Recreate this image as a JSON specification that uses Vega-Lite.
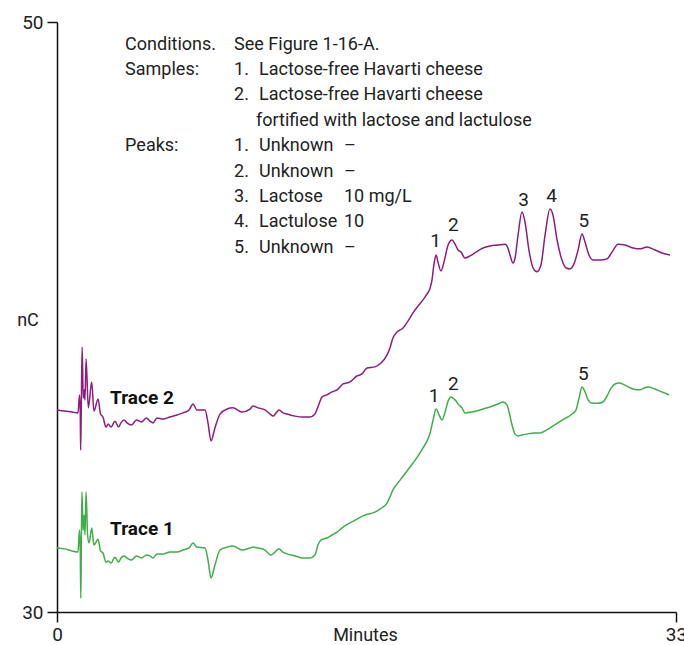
{
  "$schema": "https://vega.github.io/schema/vega-lite/v6.json",
  "width": 619,
  "height": 590,
  "autosize": {"type": "none"},
  "padding": {"left": 57, "top": 22, "right": 8, "bottom": 33},
  "background": "white",
  "config": {
    "view": {"stroke": null},
    "font": "Roboto",
    "axis": {
      "grid": false,
      "domainColor": "#111111",
      "domainWidth": 1.5,
      "tickColor": "#111111",
      "tickWidth": 1.5,
      "tickSize": 10,
      "labelFlush": false,
      "labelFont": "Roboto",
      "labelFontSize": 19,
      "labelColor": "#222222",
      "titleFont": "Roboto",
      "titleFontSize": 18,
      "titleFontWeight": "normal",
      "titleColor": "#222222"
    }
  },
  "datasets": {
    "traces": [
      {"trace": "Trace 2", "min": 0.00, "nC": 36.85},
      {"trace": "Trace 2", "min": 0.43, "nC": 36.81},
      {"trace": "Trace 2", "min": 0.80, "nC": 36.78},
      {"trace": "Trace 2", "min": 1.12, "nC": 36.75},
      {"trace": "Trace 2", "min": 1.20, "nC": 37.36},
      {"trace": "Trace 2", "min": 1.24, "nC": 36.78},
      {"trace": "Trace 2", "min": 1.26, "nC": 35.49},
      {"trace": "Trace 2", "min": 1.30, "nC": 37.19},
      {"trace": "Trace 2", "min": 1.34, "nC": 38.98},
      {"trace": "Trace 2", "min": 1.40, "nC": 37.25},
      {"trace": "Trace 2", "min": 1.46, "nC": 37.53},
      {"trace": "Trace 2", "min": 1.49, "nC": 37.19},
      {"trace": "Trace 2", "min": 1.55, "nC": 38.58},
      {"trace": "Trace 2", "min": 1.67, "nC": 36.92},
      {"trace": "Trace 2", "min": 1.85, "nC": 37.80},
      {"trace": "Trace 2", "min": 1.97, "nC": 36.81},
      {"trace": "Trace 2", "min": 2.19, "nC": 37.22},
      {"trace": "Trace 2", "min": 2.32, "nC": 36.71},
      {"trace": "Trace 2", "min": 2.45, "nC": 36.61},
      {"trace": "Trace 2", "min": 2.61, "nC": 36.27},
      {"trace": "Trace 2", "min": 2.73, "nC": 36.37},
      {"trace": "Trace 2", "min": 2.88, "nC": 36.27},
      {"trace": "Trace 2", "min": 3.09, "nC": 36.47},
      {"trace": "Trace 2", "min": 3.28, "nC": 36.27},
      {"trace": "Trace 2", "min": 3.41, "nC": 36.41},
      {"trace": "Trace 2", "min": 3.57, "nC": 36.51},
      {"trace": "Trace 2", "min": 3.73, "nC": 36.41},
      {"trace": "Trace 2", "min": 3.97, "nC": 36.34},
      {"trace": "Trace 2", "min": 4.24, "nC": 36.51},
      {"trace": "Trace 2", "min": 4.50, "nC": 36.44},
      {"trace": "Trace 2", "min": 4.77, "nC": 36.58},
      {"trace": "Trace 2", "min": 4.96, "nC": 36.47},
      {"trace": "Trace 2", "min": 5.12, "nC": 36.41},
      {"trace": "Trace 2", "min": 5.33, "nC": 36.58},
      {"trace": "Trace 2", "min": 5.65, "nC": 36.54},
      {"trace": "Trace 2", "min": 6.02, "nC": 36.61},
      {"trace": "Trace 2", "min": 6.40, "nC": 36.68},
      {"trace": "Trace 2", "min": 6.72, "nC": 36.75},
      {"trace": "Trace 2", "min": 7.04, "nC": 36.85},
      {"trace": "Trace 2", "min": 7.25, "nC": 37.05},
      {"trace": "Trace 2", "min": 7.46, "nC": 36.85},
      {"trace": "Trace 2", "min": 7.89, "nC": 36.85},
      {"trace": "Trace 2", "min": 8.05, "nC": 36.41},
      {"trace": "Trace 2", "min": 8.21, "nC": 35.80},
      {"trace": "Trace 2", "min": 8.42, "nC": 36.24},
      {"trace": "Trace 2", "min": 8.69, "nC": 36.71},
      {"trace": "Trace 2", "min": 9.06, "nC": 36.88},
      {"trace": "Trace 2", "min": 9.38, "nC": 36.92},
      {"trace": "Trace 2", "min": 9.86, "nC": 36.78},
      {"trace": "Trace 2", "min": 10.29, "nC": 36.88},
      {"trace": "Trace 2", "min": 10.45, "nC": 36.98},
      {"trace": "Trace 2", "min": 10.72, "nC": 36.92},
      {"trace": "Trace 2", "min": 11.09, "nC": 36.85},
      {"trace": "Trace 2", "min": 11.36, "nC": 36.71},
      {"trace": "Trace 2", "min": 11.52, "nC": 36.64},
      {"trace": "Trace 2", "min": 11.68, "nC": 36.75},
      {"trace": "Trace 2", "min": 11.84, "nC": 36.85},
      {"trace": "Trace 2", "min": 12.05, "nC": 36.75},
      {"trace": "Trace 2", "min": 12.26, "nC": 36.71},
      {"trace": "Trace 2", "min": 12.69, "nC": 36.64},
      {"trace": "Trace 2", "min": 13.11, "nC": 36.61},
      {"trace": "Trace 2", "min": 13.49, "nC": 36.61},
      {"trace": "Trace 2", "min": 13.75, "nC": 36.71},
      {"trace": "Trace 2", "min": 13.97, "nC": 37.05},
      {"trace": "Trace 2", "min": 14.13, "nC": 37.29},
      {"trace": "Trace 2", "min": 14.39, "nC": 37.36},
      {"trace": "Trace 2", "min": 14.66, "nC": 37.46},
      {"trace": "Trace 2", "min": 14.93, "nC": 37.53},
      {"trace": "Trace 2", "min": 15.25, "nC": 37.73},
      {"trace": "Trace 2", "min": 15.62, "nC": 37.80},
      {"trace": "Trace 2", "min": 15.99, "nC": 38.00},
      {"trace": "Trace 2", "min": 16.26, "nC": 38.07},
      {"trace": "Trace 2", "min": 16.53, "nC": 38.27},
      {"trace": "Trace 2", "min": 16.95, "nC": 38.31},
      {"trace": "Trace 2", "min": 17.27, "nC": 38.44},
      {"trace": "Trace 2", "min": 17.59, "nC": 38.71},
      {"trace": "Trace 2", "min": 17.75, "nC": 38.95},
      {"trace": "Trace 2", "min": 17.91, "nC": 39.29},
      {"trace": "Trace 2", "min": 18.13, "nC": 39.49},
      {"trace": "Trace 2", "min": 18.45, "nC": 39.63},
      {"trace": "Trace 2", "min": 18.71, "nC": 39.86},
      {"trace": "Trace 2", "min": 18.98, "nC": 40.14},
      {"trace": "Trace 2", "min": 19.25, "nC": 40.37},
      {"trace": "Trace 2", "min": 19.51, "nC": 40.58},
      {"trace": "Trace 2", "min": 19.73, "nC": 40.78},
      {"trace": "Trace 2", "min": 19.89, "nC": 40.98},
      {"trace": "Trace 2", "min": 19.99, "nC": 41.25},
      {"trace": "Trace 2", "min": 20.10, "nC": 41.80},
      {"trace": "Trace 2", "min": 20.21, "nC": 42.10},
      {"trace": "Trace 2", "min": 20.31, "nC": 41.86},
      {"trace": "Trace 2", "min": 20.47, "nC": 41.56},
      {"trace": "Trace 2", "min": 20.63, "nC": 41.86},
      {"trace": "Trace 2", "min": 20.85, "nC": 42.44},
      {"trace": "Trace 2", "min": 21.06, "nC": 42.61},
      {"trace": "Trace 2", "min": 21.22, "nC": 42.47},
      {"trace": "Trace 2", "min": 21.38, "nC": 42.27},
      {"trace": "Trace 2", "min": 21.54, "nC": 42.20},
      {"trace": "Trace 2", "min": 21.75, "nC": 42.00},
      {"trace": "Trace 2", "min": 22.02, "nC": 42.07},
      {"trace": "Trace 2", "min": 22.34, "nC": 42.20},
      {"trace": "Trace 2", "min": 22.71, "nC": 42.34},
      {"trace": "Trace 2", "min": 23.08, "nC": 42.41},
      {"trace": "Trace 2", "min": 23.51, "nC": 42.44},
      {"trace": "Trace 2", "min": 23.88, "nC": 42.47},
      {"trace": "Trace 2", "min": 24.04, "nC": 42.34},
      {"trace": "Trace 2", "min": 24.15, "nC": 42.10},
      {"trace": "Trace 2", "min": 24.31, "nC": 41.83},
      {"trace": "Trace 2", "min": 24.42, "nC": 42.00},
      {"trace": "Trace 2", "min": 24.58, "nC": 42.78},
      {"trace": "Trace 2", "min": 24.79, "nC": 43.56},
      {"trace": "Trace 2", "min": 24.95, "nC": 43.22},
      {"trace": "Trace 2", "min": 25.16, "nC": 42.27},
      {"trace": "Trace 2", "min": 25.38, "nC": 41.66},
      {"trace": "Trace 2", "min": 25.59, "nC": 41.53},
      {"trace": "Trace 2", "min": 25.80, "nC": 41.76},
      {"trace": "Trace 2", "min": 26.02, "nC": 42.78},
      {"trace": "Trace 2", "min": 26.28, "nC": 43.66},
      {"trace": "Trace 2", "min": 26.44, "nC": 43.46},
      {"trace": "Trace 2", "min": 26.66, "nC": 42.61},
      {"trace": "Trace 2", "min": 26.92, "nC": 41.93},
      {"trace": "Trace 2", "min": 27.14, "nC": 41.66},
      {"trace": "Trace 2", "min": 27.35, "nC": 41.63},
      {"trace": "Trace 2", "min": 27.56, "nC": 41.80},
      {"trace": "Trace 2", "min": 27.78, "nC": 42.27},
      {"trace": "Trace 2", "min": 27.99, "nC": 42.81},
      {"trace": "Trace 2", "min": 28.15, "nC": 42.54},
      {"trace": "Trace 2", "min": 28.36, "nC": 42.10},
      {"trace": "Trace 2", "min": 28.58, "nC": 41.93},
      {"trace": "Trace 2", "min": 28.95, "nC": 41.93},
      {"trace": "Trace 2", "min": 29.32, "nC": 41.97},
      {"trace": "Trace 2", "min": 29.59, "nC": 42.20},
      {"trace": "Trace 2", "min": 29.91, "nC": 42.47},
      {"trace": "Trace 2", "min": 30.28, "nC": 42.44},
      {"trace": "Trace 2", "min": 30.71, "nC": 42.34},
      {"trace": "Trace 2", "min": 31.08, "nC": 42.31},
      {"trace": "Trace 2", "min": 31.45, "nC": 42.37},
      {"trace": "Trace 2", "min": 31.88, "nC": 42.27},
      {"trace": "Trace 2", "min": 32.25, "nC": 42.17},
      {"trace": "Trace 2", "min": 32.68, "nC": 42.10},
      {"trace": "Trace 1", "min": 0.00, "nC": 32.17},
      {"trace": "Trace 1", "min": 0.43, "nC": 32.14},
      {"trace": "Trace 1", "min": 0.80, "nC": 32.07},
      {"trace": "Trace 1", "min": 1.12, "nC": 32.03},
      {"trace": "Trace 1", "min": 1.20, "nC": 32.78},
      {"trace": "Trace 1", "min": 1.24, "nC": 32.10},
      {"trace": "Trace 1", "min": 1.27, "nC": 30.47},
      {"trace": "Trace 1", "min": 1.30, "nC": 32.44},
      {"trace": "Trace 1", "min": 1.33, "nC": 34.07},
      {"trace": "Trace 1", "min": 1.39, "nC": 32.78},
      {"trace": "Trace 1", "min": 1.44, "nC": 33.29},
      {"trace": "Trace 1", "min": 1.49, "nC": 32.61},
      {"trace": "Trace 1", "min": 1.55, "nC": 34.07},
      {"trace": "Trace 1", "min": 1.63, "nC": 32.61},
      {"trace": "Trace 1", "min": 1.71, "nC": 32.34},
      {"trace": "Trace 1", "min": 1.85, "nC": 32.85},
      {"trace": "Trace 1", "min": 1.97, "nC": 32.27},
      {"trace": "Trace 1", "min": 2.19, "nC": 32.47},
      {"trace": "Trace 1", "min": 2.32, "nC": 32.07},
      {"trace": "Trace 1", "min": 2.45, "nC": 32.00},
      {"trace": "Trace 1", "min": 2.61, "nC": 31.69},
      {"trace": "Trace 1", "min": 2.73, "nC": 31.73},
      {"trace": "Trace 1", "min": 2.88, "nC": 31.66},
      {"trace": "Trace 1", "min": 3.09, "nC": 31.86},
      {"trace": "Trace 1", "min": 3.28, "nC": 31.69},
      {"trace": "Trace 1", "min": 3.41, "nC": 31.83},
      {"trace": "Trace 1", "min": 3.57, "nC": 31.90},
      {"trace": "Trace 1", "min": 3.73, "nC": 31.83},
      {"trace": "Trace 1", "min": 3.97, "nC": 31.76},
      {"trace": "Trace 1", "min": 4.24, "nC": 31.90},
      {"trace": "Trace 1", "min": 4.50, "nC": 31.83},
      {"trace": "Trace 1", "min": 4.77, "nC": 31.93},
      {"trace": "Trace 1", "min": 4.96, "nC": 31.90},
      {"trace": "Trace 1", "min": 5.12, "nC": 31.83},
      {"trace": "Trace 1", "min": 5.33, "nC": 31.97},
      {"trace": "Trace 1", "min": 5.65, "nC": 31.97},
      {"trace": "Trace 1", "min": 6.02, "nC": 32.03},
      {"trace": "Trace 1", "min": 6.40, "nC": 32.03},
      {"trace": "Trace 1", "min": 6.72, "nC": 32.10},
      {"trace": "Trace 1", "min": 7.04, "nC": 32.17},
      {"trace": "Trace 1", "min": 7.25, "nC": 32.34},
      {"trace": "Trace 1", "min": 7.46, "nC": 32.20},
      {"trace": "Trace 1", "min": 7.89, "nC": 32.17},
      {"trace": "Trace 1", "min": 8.05, "nC": 31.76},
      {"trace": "Trace 1", "min": 8.21, "nC": 31.15},
      {"trace": "Trace 1", "min": 8.42, "nC": 31.59},
      {"trace": "Trace 1", "min": 8.69, "nC": 32.10},
      {"trace": "Trace 1", "min": 9.06, "nC": 32.20},
      {"trace": "Trace 1", "min": 9.38, "nC": 32.24},
      {"trace": "Trace 1", "min": 9.86, "nC": 32.10},
      {"trace": "Trace 1", "min": 10.29, "nC": 32.17},
      {"trace": "Trace 1", "min": 10.45, "nC": 32.20},
      {"trace": "Trace 1", "min": 10.72, "nC": 32.17},
      {"trace": "Trace 1", "min": 11.09, "nC": 32.10},
      {"trace": "Trace 1", "min": 11.25, "nC": 32.00},
      {"trace": "Trace 1", "min": 11.41, "nC": 31.93},
      {"trace": "Trace 1", "min": 11.62, "nC": 32.03},
      {"trace": "Trace 1", "min": 11.84, "nC": 32.14},
      {"trace": "Trace 1", "min": 12.05, "nC": 32.03},
      {"trace": "Trace 1", "min": 12.26, "nC": 31.97},
      {"trace": "Trace 1", "min": 12.69, "nC": 31.90},
      {"trace": "Trace 1", "min": 13.11, "nC": 31.83},
      {"trace": "Trace 1", "min": 13.49, "nC": 31.83},
      {"trace": "Trace 1", "min": 13.75, "nC": 31.93},
      {"trace": "Trace 1", "min": 13.91, "nC": 32.27},
      {"trace": "Trace 1", "min": 14.07, "nC": 32.44},
      {"trace": "Trace 1", "min": 14.39, "nC": 32.51},
      {"trace": "Trace 1", "min": 14.66, "nC": 32.61},
      {"trace": "Trace 1", "min": 14.93, "nC": 32.71},
      {"trace": "Trace 1", "min": 15.25, "nC": 32.88},
      {"trace": "Trace 1", "min": 15.62, "nC": 33.02},
      {"trace": "Trace 1", "min": 15.99, "nC": 33.15},
      {"trace": "Trace 1", "min": 16.42, "nC": 33.29},
      {"trace": "Trace 1", "min": 16.85, "nC": 33.36},
      {"trace": "Trace 1", "min": 17.22, "nC": 33.49},
      {"trace": "Trace 1", "min": 17.59, "nC": 33.69},
      {"trace": "Trace 1", "min": 17.75, "nC": 33.90},
      {"trace": "Trace 1", "min": 17.91, "nC": 34.14},
      {"trace": "Trace 1", "min": 18.29, "nC": 34.47},
      {"trace": "Trace 1", "min": 18.66, "nC": 34.78},
      {"trace": "Trace 1", "min": 18.98, "nC": 35.05},
      {"trace": "Trace 1", "min": 19.25, "nC": 35.29},
      {"trace": "Trace 1", "min": 19.51, "nC": 35.56},
      {"trace": "Trace 1", "min": 19.73, "nC": 35.80},
      {"trace": "Trace 1", "min": 19.89, "nC": 36.07},
      {"trace": "Trace 1", "min": 20.05, "nC": 36.51},
      {"trace": "Trace 1", "min": 20.21, "nC": 36.88},
      {"trace": "Trace 1", "min": 20.37, "nC": 36.68},
      {"trace": "Trace 1", "min": 20.53, "nC": 36.51},
      {"trace": "Trace 1", "min": 20.69, "nC": 36.78},
      {"trace": "Trace 1", "min": 20.85, "nC": 37.15},
      {"trace": "Trace 1", "min": 21.00, "nC": 37.29},
      {"trace": "Trace 1", "min": 21.22, "nC": 37.19},
      {"trace": "Trace 1", "min": 21.43, "nC": 37.02},
      {"trace": "Trace 1", "min": 21.59, "nC": 36.92},
      {"trace": "Trace 1", "min": 21.75, "nC": 36.75},
      {"trace": "Trace 1", "min": 22.12, "nC": 36.78},
      {"trace": "Trace 1", "min": 22.55, "nC": 36.85},
      {"trace": "Trace 1", "min": 23.08, "nC": 36.95},
      {"trace": "Trace 1", "min": 23.51, "nC": 37.05},
      {"trace": "Trace 1", "min": 23.78, "nC": 37.12},
      {"trace": "Trace 1", "min": 23.99, "nC": 37.02},
      {"trace": "Trace 1", "min": 24.10, "nC": 36.78},
      {"trace": "Trace 1", "min": 24.26, "nC": 36.34},
      {"trace": "Trace 1", "min": 24.42, "nC": 36.03},
      {"trace": "Trace 1", "min": 24.58, "nC": 35.97},
      {"trace": "Trace 1", "min": 24.79, "nC": 36.00},
      {"trace": "Trace 1", "min": 25.06, "nC": 36.03},
      {"trace": "Trace 1", "min": 25.43, "nC": 36.07},
      {"trace": "Trace 1", "min": 25.75, "nC": 36.07},
      {"trace": "Trace 1", "min": 26.18, "nC": 36.20},
      {"trace": "Trace 1", "min": 26.60, "nC": 36.37},
      {"trace": "Trace 1", "min": 27.03, "nC": 36.54},
      {"trace": "Trace 1", "min": 27.46, "nC": 36.71},
      {"trace": "Trace 1", "min": 27.67, "nC": 36.85},
      {"trace": "Trace 1", "min": 27.83, "nC": 37.25},
      {"trace": "Trace 1", "min": 27.99, "nC": 37.63},
      {"trace": "Trace 1", "min": 28.15, "nC": 37.46},
      {"trace": "Trace 1", "min": 28.31, "nC": 37.19},
      {"trace": "Trace 1", "min": 28.52, "nC": 37.08},
      {"trace": "Trace 1", "min": 28.84, "nC": 37.08},
      {"trace": "Trace 1", "min": 29.11, "nC": 37.12},
      {"trace": "Trace 1", "min": 29.32, "nC": 37.32},
      {"trace": "Trace 1", "min": 29.54, "nC": 37.59},
      {"trace": "Trace 1", "min": 29.75, "nC": 37.73},
      {"trace": "Trace 1", "min": 29.96, "nC": 37.76},
      {"trace": "Trace 1", "min": 30.28, "nC": 37.69},
      {"trace": "Trace 1", "min": 30.71, "nC": 37.56},
      {"trace": "Trace 1", "min": 31.08, "nC": 37.53},
      {"trace": "Trace 1", "min": 31.29, "nC": 37.59},
      {"trace": "Trace 1", "min": 31.51, "nC": 37.63},
      {"trace": "Trace 1", "min": 31.88, "nC": 37.56},
      {"trace": "Trace 1", "min": 32.25, "nC": 37.46},
      {"trace": "Trace 1", "min": 32.63, "nC": 37.36}
    ],
    "notes": [
      {"text": "Conditions.", "min": 3.63, "nC": 49.05},
      {"text": "See Figure 1-16-A.", "min": 9.44, "nC": 49.05},
      {"text": "Samples:", "min": 3.63, "nC": 48.19},
      {"text": "1.", "min": 9.44, "nC": 48.19},
      {"text": "Lactose-free Havarti cheese", "min": 10.77, "nC": 48.19},
      {"text": "2.", "min": 9.44, "nC": 47.34},
      {"text": "Lactose-free Havarti cheese", "min": 10.77, "nC": 47.34},
      {"text": "fortified with lactose and lactulose", "min": 10.61, "nC": 46.47},
      {"text": "Peaks:", "min": 3.63, "nC": 45.62},
      {"text": "1.", "min": 9.44, "nC": 45.62},
      {"text": "Unknown", "min": 10.77, "nC": 45.62},
      {"text": "–", "min": 15.3, "nC": 45.62},
      {"text": "2.", "min": 9.44, "nC": 44.76},
      {"text": "Unknown", "min": 10.77, "nC": 44.76},
      {"text": "–", "min": 15.3, "nC": 44.76},
      {"text": "3.", "min": 9.44, "nC": 43.90},
      {"text": "Lactose", "min": 10.77, "nC": 43.90},
      {"text": "10 mg/L", "min": 15.3, "nC": 43.90},
      {"text": "4.", "min": 9.44, "nC": 43.04},
      {"text": "Lactulose", "min": 10.77, "nC": 43.04},
      {"text": "10", "min": 15.3, "nC": 43.04},
      {"text": "5.", "min": 9.44, "nC": 42.18},
      {"text": "Unknown", "min": 10.77, "nC": 42.18},
      {"text": "–", "min": 15.3, "nC": 42.18}
    ],
    "traceLabels": [
      {"text": "Trace 2", "min": 2.83, "nC": 37.05},
      {"text": "Trace 1", "min": 2.83, "nC": 32.61}
    ],
    "peakLabels": [
      {"text": "1", "min": 20.19, "nC": 42.37},
      {"text": "2", "min": 21.13, "nC": 42.92},
      {"text": "3", "min": 24.88, "nC": 43.77},
      {"text": "4", "min": 26.37, "nC": 43.91},
      {"text": "5", "min": 28.09, "nC": 43.05},
      {"text": "1", "min": 20.11, "nC": 37.12},
      {"text": "2", "min": 21.13, "nC": 37.53},
      {"text": "5", "min": 28.06, "nC": 37.86}
    ]
  },
  "layer": [
    {
      "data": {"name": "traces"},
      "mark": {"type": "line", "interpolate": "monotone", "strokeWidth": 1.5},
      "encoding": {
        "x": {
          "field": "min", "type": "quantitative",
          "scale": {"domain": [0, 33], "nice": false, "zero": false},
          "axis": {"values": [0, 33], "title": "Minutes", "labelPadding": 3, "titleX": 308, "titleY": 28, "titleBaseline": "alphabetic", "titleAlign": "center"}
        },
        "y": {
          "field": "nC", "type": "quantitative",
          "scale": {"domain": [30, 50], "nice": false, "zero": false},
          "axis": {"values": [30, 50], "title": "nC", "labelPadding": 4, "titleAngle": 0, "titleX": -29.5, "titleY": 303, "titleBaseline": "alphabetic", "titleAlign": "center"}
        },
        "color": {
          "field": "trace", "type": "nominal",
          "scale": {"domain": ["Trace 1", "Trace 2"], "range": ["#3fae49", "#8b1e7e"]},
          "legend": null
        }
      }
    },
    {
      "data": {"name": "notes"},
      "mark": {"type": "text", "align": "left", "baseline": "alphabetic", "fontSize": 18, "color": "#222222", "font": "Roboto"},
      "encoding": {
        "x": {"field": "min", "type": "quantitative"},
        "y": {"field": "nC", "type": "quantitative"},
        "text": {"field": "text"}
      }
    },
    {
      "data": {"name": "traceLabels"},
      "mark": {"type": "text", "align": "left", "baseline": "alphabetic", "fontSize": 19, "fontWeight": "bold", "color": "#111111", "font": "Roboto"},
      "encoding": {
        "x": {"field": "min", "type": "quantitative"},
        "y": {"field": "nC", "type": "quantitative"},
        "text": {"field": "text"}
      }
    },
    {
      "data": {"name": "peakLabels"},
      "mark": {"type": "text", "align": "center", "baseline": "alphabetic", "fontSize": 19, "color": "#222222", "font": "Roboto"},
      "encoding": {
        "x": {"field": "min", "type": "quantitative"},
        "y": {"field": "nC", "type": "quantitative"},
        "text": {"field": "text"}
      }
    }
  ]
}
